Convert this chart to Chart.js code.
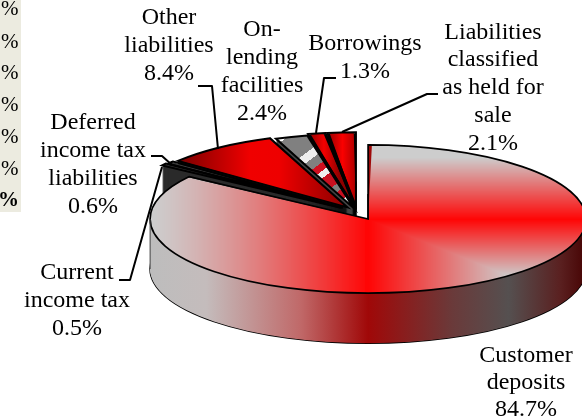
<!DOCTYPE html>
<html><head><meta charset="utf-8">
<style>html,body{margin:0;padding:0;background:#fff;overflow:hidden}canvas{display:block}</style>
<script src="https://cdn.jsdelivr.net/npm/chart.js@4"></script>
</head><body><canvas id="c" width="582" height="418"></canvas>
<script>
const categories=['Customer deposits','Current income tax','Deferred income tax liabilities','Other liabilities','On-lending facilities','Borrowings','Liabilities classified as held for sale'];
const values=[84.7,0.5,0.6,8.4,2.4,1.3,2.1];
const explode=[24,20,18,16,12,16,16];
const clippedRows=['%','%','%','%','%','%','%'];
const labelLines=[['Customer','deposits','84.7%'],['Current','income tax','0.5%'],['Deferred','income tax','liabilities','0.6%'],['Other','liabilities','8.4%'],['On-','lending','facilities','2.4%'],['Borrowings','1.3%'],['Liabilities','classified','as held for','sale','2.1%']];
const labelPos=[[526,[356,383,410]],[77,[273,301,329]],[93,[123,151,179,207]],[169,[18,46,74]],[262,[30,58,86,114]],[365,[44,72]],[493,[33,60,88,116,144]]];
const leaders=[null,[[119,280],[130,280],[162,167]],[[151,156],[162,156],[172,165]],[[198,86],[212,86],[218,149]],null,[[336,78],[324,78],[316,133]],[[438,94],[427,94],[342,132]]];
const W=582,H=418,cx=357,c0=209,cy=211.8,k=0.34,R=218,depth=50;
const dim=document.createElement('canvas').getContext('2d');
function tex(paint){const o=document.createElement('canvas');o.width=W;o.height=H;paint(o.getContext('2d'),o);return dim.createPattern(o,'no-repeat');}
function hgrad(g,x0,x1,stops){const l=g.createLinearGradient(x0,0,x1,0);stops.forEach(s=>l.addColorStop(s[0],s[1]));g.fillStyle=l;g.fillRect(0,0,W,H);}
const mainTex=tex((g)=>{const im=g.createImageData(W,H),ax=368,ay=219;
 for(let y=0;y<H;y++)for(let x=0;x<W;x++){const dx=x-ax,dy=y-ay;let t;
  if(dx<-3){const u=Math.min(1,-dx/218);t=1-Math.pow(1-u,1.3);}else if(dy<0)t=-dy/62;else t=Math.min(dx/142,dy/57);
  t=Math.max(0,Math.min(1,t));const i=(y*W+x)*4;im.data[i]=255+(205-255)*t;im.data[i+1]=5+200*t;im.data[i+2]=5+200*t;im.data[i+3]=255;}
 g.putImageData(im,0,0);});
const otherTex=tex(g=>hgrad(g,172,345,[[0,'#6e0000'],[0.45,'#f00000'],[0.62,'#ee0000'],[1,'#8c0000']]));
const lendTex=tex(g=>{const l=g.createLinearGradient(285,135,345,215);
 [[0,'#fff'],[0.03,'#fff'],[0.03,'#808080'],[0.27,'#808080'],[0.27,'#eee'],[0.35,'#eee'],[0.35,'#808080'],[0.44,'#808080'],[0.44,'#d01020'],[0.51,'#d01020'],[0.51,'#eee'],[0.57,'#eee'],[0.57,'#c81020'],[0.7,'#c81020'],[0.7,'#808080'],[0.77,'#808080'],[0.77,'#c81020'],[0.86,'#c81020'],[0.86,'#fff'],[1,'#fff']].forEach(s=>l.addColorStop(s[0],s[1]));g.fillStyle=l;g.fillRect(0,0,W,H);});
const borTex=tex(g=>hgrad(g,308,340,[[0,'#8c0000'],[0.5,'#f40000'],[1,'#8c0000']]));
const lastTex=tex(g=>hgrad(g,327,358,[[0,'#900000'],[0.5,'#fa0000'],[1,'#a00000']]));
const fills=[mainTex,'#3a3a3a','#3a3a3a',otherTex,lendTex,borTex,lastTex];
const wallColors=[null,'#2b2b2b','#2b2b2b','#111111','#444444','#000000','#000000'];
const drawOrder=[6,5,4,3,2,1,0];
function tr(c){c.translate(0,cy);c.scale(1,k);c.translate(0,-c0);}
function geom(a){const p=a.getProps(['x','y','startAngle','endAngle','outerRadius','circumference']);const d=(a.options.offset||0)/4,h=(p.startAngle+p.endAngle)/2;
 const fix=1-Math.sin(Math.min(Math.PI,p.circumference));
 return Object.assign(p,{d,ox:Math.cos(h)*d,oy:Math.sin(h)*d,r:p.outerRadius+d*fix});}
function path(c,g,shift){c.save();c.setTransform(1,0,0,1,0,shift);tr(c);c.translate(g.ox,g.oy);c.beginPath();c.moveTo(g.x,g.y);c.arc(g.x,g.y,g.r,g.startAngle,g.endAngle);c.closePath();c.restore();}
const pie3d={id:'pie3d',
 afterDatasetsUpdate(chart){chart.getDatasetMeta(0).data.forEach(a=>{const d=(a.options.offset||0)/4;a.outerRadius-=d*(1-Math.sin(Math.min(Math.PI,a.circumference)));});},
 beforeDatasetDraw(chart){const c=chart.ctx,data=chart.getDatasetMeta(0).data;
  drawOrder.forEach(i=>{const a=data[i],g=geom(a);let wall=wallColors[i];
   if(i===0){const l=c.createLinearGradient(150,0,582,0);
    [[0,'#bdbdbd'],[0.13,'#c4bcbc'],[0.35,'#c06868'],[0.505,'#a00808'],[0.7,'#6a3a3a'],[0.83,'#555050'],[0.95,'#5a2020'],[1,'#4a0808']].forEach(s=>l.addColorStop(s[0],s[1]));wall=l;}
   c.save();
   c.strokeStyle='#000';c.lineWidth=1.6;path(c,g,depth);c.stroke();
   c.fillStyle=wall;for(let s=depth;s>0;s--){path(c,g,s);c.fill();}
   c.restore();
   if(fills[i] instanceof CanvasPattern){c.save();tr(c);c.translate(g.ox,g.oy);const m=c.getTransform();c.restore();fills[i].setTransform(m.inverse());}
   c.save();tr(c);a.draw(c);c.restore();
   c.strokeStyle='#000';c.lineJoin='miter';c.lineWidth=i===0?1.7:2;path(c,g,0);c.stroke();
   if(i===0){c.strokeStyle='#444';c.lineWidth=1;const xl=g.x+g.ox-g.r,yl=cy+(g.y-c0+g.oy)*k;c.beginPath();c.moveTo(xl,yl);c.lineTo(xl,yl+depth);c.stroke();}
  });
  return false;},
 afterDraw(chart){const c=chart.ctx;c.save();
  c.fillStyle='#ecebe0';c.fillRect(0,0,21,212);
  c.fillStyle='#000';c.textBaseline='middle';c.textAlign='right';
  const rowY=[9,42,73,105,137,169,201];
  clippedRows.forEach((t,i)=>{c.font=(i===6?'bold ':'')+'21px "Liberation Serif"';c.fillText(t,i===6?19:18.5,rowY[i]);});
  c.textAlign='center';c.font='24px "Liberation Serif"';
  labelLines.forEach((ls,i)=>ls.forEach((t,j)=>c.fillText(t,labelPos[i][0],labelPos[i][1][j])));
  c.strokeStyle='#000';c.lineWidth=2;c.lineJoin='round';
  leaders.forEach(l=>{if(!l)return;c.beginPath();l.forEach((p,j)=>j?c.lineTo(p[0],p[1]):c.moveTo(p[0],p[1]));c.stroke();});
  c.restore();}
};
new Chart(document.getElementById('c'),{type:'pie',plugins:[pie3d],
 data:{labels:categories,datasets:[{data:values,backgroundColor:fills,borderWidth:0,borderColor:'#000',offset:explode.map(e=>e*4)}]},
 options:{responsive:false,animation:false,radius:R,layout:{padding:{left:2*cx-W,top:0,right:0,bottom:0}},plugins:{legend:{display:false},tooltip:{enabled:false}},events:[]}});
</script></body></html>
